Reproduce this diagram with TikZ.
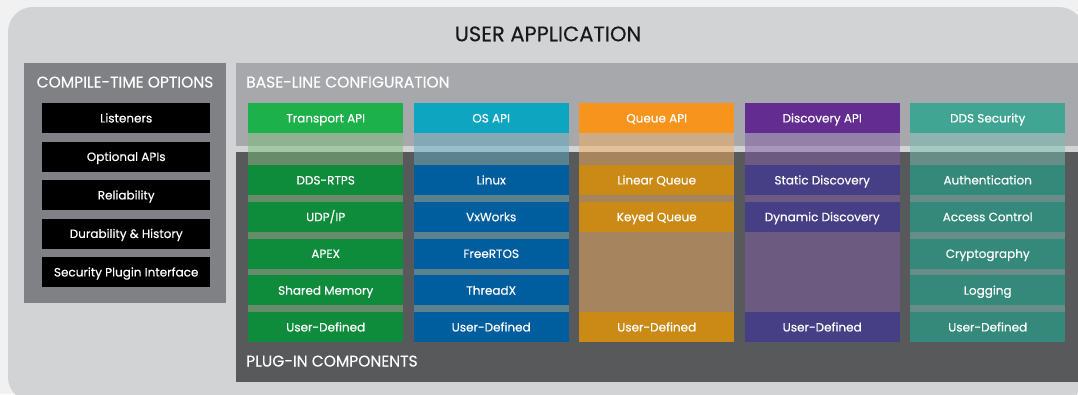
\documentclass[tikz,border=0pt]{standalone}
\usepackage{fontspec}
\setmainfont{Poppins}
\newfontfamily\medfont[FakeBold=0.35]{Poppins}
\newfontfamily\headfont[FakeBold=0.2]{Poppins}
\definecolor{pagebg}{HTML}{F1F1F1}
\definecolor{appbg}{HTML}{D2D3D5}
\definecolor{compilebg}{HTML}{808184}
\definecolor{baselinebg}{HTML}{A7A8AB}
\definecolor{pluginbg}{HTML}{58595B}
\definecolor{trhead}{HTML}{1DB14B}
\definecolor{tritem}{HTML}{0F8C3B}
\definecolor{trtint}{HTML}{78BF79}
\definecolor{oshead}{HTML}{0EA5C0}
\definecolor{ositem}{HTML}{005E9E}
\definecolor{ostint}{HTML}{60ABC3}
\definecolor{qhead}{HTML}{F7941E}
\definecolor{qitem}{HTML}{CB8A16}
\definecolor{qtint}{HTML}{F2AF61}
\definecolor{dhead}{HTML}{622C91}
\definecolor{ditem}{HTML}{473F85}
\definecolor{dtint}{HTML}{805BA5}
\definecolor{shead}{HTML}{40A593}
\definecolor{sitem}{HTML}{34897A}
\definecolor{stint}{HTML}{78BFB1}
\tikzset{
  title/.style={font=\medfont\fontsize{15.5}{17}\selectfont, text=white, inner sep=0pt,
    text height=11pt, text depth=0pt},
  optbox/.style={fill=black, text=white, minimum width=168pt, minimum height=30pt,
    inner sep=0pt, anchor=north west, font=\medfont\fontsize{12}{14}\selectfont,
    text height=8.5pt, text depth=0pt},
  colbox/.style={fill=#1, text=white, minimum width=155pt, minimum height=30pt,
    inner sep=0pt, anchor=north west, font=\medfont\fontsize{12}{14}\selectfont,
    text height=8.5pt, text depth=0pt},
}
\begin{document}
\begin{tikzpicture}[x=1pt,y=-1pt]
    \clip (0,0) rectangle (1078,394);
    \fill[pagebg] (0,0) rectangle (1078,394);
    \fill[appbg,rounded corners=25pt] (8,7) rectangle (1084,402);
    \node[text=black!90, font=\headfont\fontsize{21}{24}\selectfont, inner sep=0pt,
      text height=14.5pt, text depth=0pt] (userapp) at (548,34) {USER APPLICATION};

    % compile-time options
    \fill[compilebg] (24,63) rectangle (226,303);
    \node[title] (compile) at (125,82) {COMPILE-TIME OPTIONS};
    \node[optbox] (listeners) at (42,103) {Listeners};
    \node[optbox] (optapis) at (42,141.5) {Optional APIs};
    \node[optbox] (reliab) at (42,180) {Reliability};
    \node[optbox] (durab) at (42,218.5) {Durability \& History};
    \node[optbox] (secplug) at (42,257) {Security Plugin Interface};

    % base-line and plug-in areas
    \fill[baselinebg] (236,63) rectangle (1090,146);
    \fill[pluginbg] (236,152) rectangle (1090,382);
    \node[title, anchor=west] (baseline) at (246,82) {BASE-LINE CONFIGURATION};
    \node[title, anchor=west] (plugin) at (246,361) {PLUG-IN COMPONENTS};

    % column backgrounds
    \fill[trtint, fill opacity=.5] (248,133) rectangle (403,342);
    \fill[ostint, fill opacity=.5] (413.5,133) rectangle (568.5,342);
    \fill[qtint, fill opacity=.5] (579,133) rectangle (734,342);
    \fill[dtint, fill opacity=.5] (744.5,133) rectangle (899.5,342);
    \fill[stint, fill opacity=.5] (910,133) rectangle (1065,342);

    % transport
    \node[colbox=trhead] (transport) at (248,103) {Transport API};
    \node[colbox=tritem] (rtps) at (248,165) {DDS-RTPS};
    \node[colbox=tritem] (udpip) at (248,201.75) {UDP/IP};
    \node[colbox=tritem] (apex) at (248,238.5) {APEX};
    \node[colbox=tritem] (shmem) at (248,275.25) {Shared Memory};
    \node[colbox=tritem] (trudef) at (248,312) {User-Defined};

    % os
    \node[colbox=oshead] (osapi) at (413.5,103) {OS API};
    \node[colbox=ositem] (linux) at (413.5,165) {Linux};
    \node[colbox=ositem] (vxworks) at (413.5,201.75) {VxWorks};
    \node[colbox=ositem] (freertos) at (413.5,238.5) {FreeRTOS};
    \node[colbox=ositem] (threadx) at (413.5,275.25) {ThreadX};
    \node[colbox=ositem] (osudef) at (413.5,312) {User-Defined};

    % queue
    \node[colbox=qhead] (queueapi) at (579,103) {Queue API};
    \node[colbox=qitem] (linq) at (579,165) {Linear Queue};
    \node[colbox=qitem] (keyq) at (579,201.75) {Keyed Queue};
    \node[colbox=qitem] (qudef) at (579,312) {User-Defined};

    % discovery
    \node[colbox=dhead] (discapi) at (744.5,103) {Discovery API};
    \node[colbox=ditem] (statdisc) at (744.5,165) {Static Discovery};
    \node[colbox=ditem] (dyndisc) at (744.5,201.75) {Dynamic Discovery};
    \node[colbox=ditem] (dudef) at (744.5,312) {User-Defined};

    % security
    \node[colbox=shead] (ddssec) at (910,103) {DDS Security};
    \node[colbox=sitem] (authn) at (910,165) {Authentication};
    \node[colbox=sitem] (access) at (910,201.75) {Access Control};
    \node[colbox=sitem] (crypto) at (910,238.5) {Cryptography};
    \node[colbox=sitem] (logging) at (910,275.25) {Logging};
    \node[colbox=sitem] (sudef) at (910,312) {User-Defined};
\end{tikzpicture}
\end{document}
